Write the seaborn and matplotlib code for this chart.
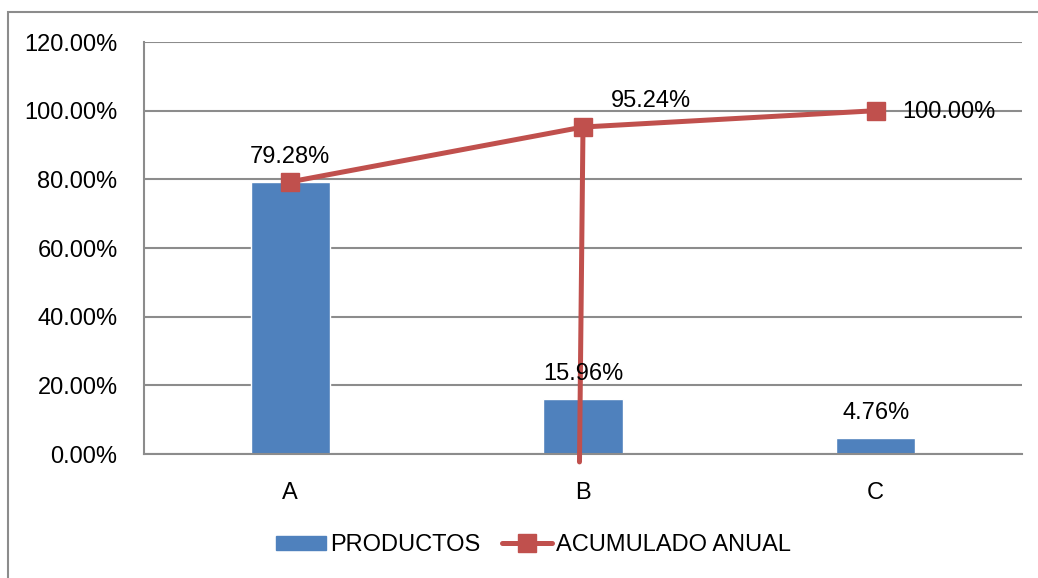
import pandas as pd
import seaborn as sns
import matplotlib.pyplot as plt
from matplotlib.patches import Rectangle
from matplotlib.ticker import FuncFormatter

categories = ["A", "B", "C"]
productos = [79.28, 15.96, 4.76]
acumulado = [79.28, 95.24, 100.00]
# stray vertical line drawn from the B point down past the axis
drop_cat = "B"
drop_bottom = -2.3

bar_color = "#4F81BD"
line_color = "#C0504D"
grid_color = "#8C8C8C"

sns.set_theme(style="white")
plt.rcParams["font.family"] = ["Liberation Sans", "DejaVu Sans"]
plt.rcParams["text.color"] = "black"

fig = plt.figure(figsize=(10.38, 5.78), dpi=100)
ax = fig.add_axes([0.1387, 0.2145, 0.8459, 0.7128])

df = pd.DataFrame({"cat": categories, "val": productos})
sns.barplot(data=df, x="cat", y="val", color=bar_color, width=0.27,
            saturation=1, ax=ax, zorder=2)

xs = list(range(len(categories)))
line, = ax.plot(xs, acumulado, color=line_color, lw=3.6, marker="s",
                markersize=12.5, zorder=4, solid_capstyle="round")

bi = categories.index(drop_cat)
ax.plot([bi, bi - 0.012], [acumulado[bi], drop_bottom], color=line_color,
        lw=3.6, clip_on=False, zorder=3)

ax.set_ylim(0, 120)
ax.set_xlim(-0.5, 2.5)
ax.set_yticks(range(0, 121, 20))
ax.yaxis.set_major_formatter(FuncFormatter(lambda v, p: f"{v:.2f}%"))
ax.yaxis.grid(True, color=grid_color, lw=1.5, zorder=0)
ax.set_axisbelow(True)
ax.set_xlabel("")
ax.set_ylabel("")
ax.tick_params(axis="both", labelsize=17, length=0, labelcolor="black")
ax.tick_params(axis="y", pad=19)
ax.tick_params(axis="x", pad=20)
for s in ["top", "right"]:
    ax.spines[s].set_visible(False)
ax.spines["left"].set_color(grid_color)
ax.spines["left"].set_linewidth(1.5)
ax.spines["bottom"].set_color(grid_color)
ax.spines["bottom"].set_linewidth(1.5)

# data labels
fs = 17
ax.annotate(f"{productos[0]:.2f}%", (0, acumulado[0]), xytext=(0, 10),
            textcoords="offset points", ha="center", va="bottom", fontsize=fs)
ax.annotate(f"{acumulado[1]:.2f}%", (1, acumulado[1]), xytext=(20, 11),
            textcoords="offset points", ha="left", va="bottom", fontsize=fs)
ax.annotate(f"{acumulado[2]:.2f}%", (2, acumulado[2]), xytext=(19, -1),
            textcoords="offset points", ha="left", va="center", fontsize=fs)
ax.annotate(f"{productos[1]:.2f}%", (1, productos[1]), xytext=(0, 10),
            textcoords="offset points", ha="center", va="bottom", fontsize=fs)
ax.annotate(f"{productos[2]:.2f}%", (2, productos[2]), xytext=(0, 10),
            textcoords="offset points", ha="center", va="bottom", fontsize=fs)

bar_handle = Rectangle((0, 0), 1, 1, color=bar_color)
ax.legend([bar_handle, line], ["PRODUCTOS", "ACUMULADO ANUAL"],
          loc="center", bbox_to_anchor=(0.444, -0.221), ncol=2,
          frameon=False, fontsize=17, handlelength=2.1, handleheight=0.55,
          columnspacing=0.9, handletextpad=0.2)

# outer chart border
fig.patches.append(Rectangle((8 / 1038, -0.05), 1.2, 1 - 12 / 578 + 0.05,
                             transform=fig.transFigure, fill=False,
                             edgecolor=grid_color, lw=1.5, zorder=0))

fig.savefig("out.png", dpi=100)
